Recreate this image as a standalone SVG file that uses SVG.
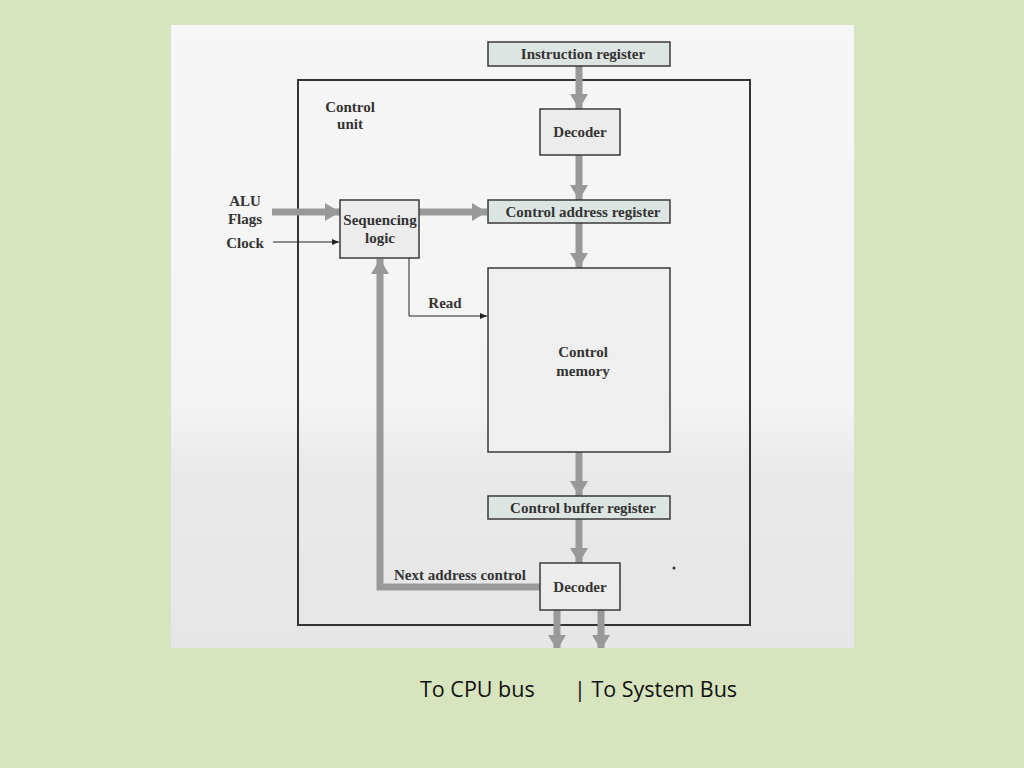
<svg xmlns="http://www.w3.org/2000/svg" width="1024" height="768" viewBox="0 0 1024 768">
<defs>
<linearGradient id="bg" x1="0" y1="0" x2="0" y2="1">
<stop offset="0" stop-color="#f6f6f6"/>
<stop offset="0.6" stop-color="#f4f4f4"/>
<stop offset="0.72" stop-color="#e9e9e9"/>
<stop offset="1" stop-color="#e6e6e6"/>
</linearGradient>
<marker id="thick" markerUnits="userSpaceOnUse" markerWidth="18" markerHeight="18" refX="15" refY="9" orient="auto" viewBox="0 0 18 18">
<path d="M0,0 L15,9 L0,18 z" fill="#999"/>
</marker>
<marker id="thin" markerUnits="userSpaceOnUse" markerWidth="8" markerHeight="8" refX="7" refY="4" orient="auto" viewBox="0 0 8 8">
<path d="M0,1 L7,4 L0,7 z" fill="#222"/>
</marker>
</defs>
<style>
.box{stroke:#3a3a3a;stroke-width:1.5}
.reg{fill:#dde5e2}
.blk{fill:#ececec}
.lbl{font-family:"Liberation Serif",serif;font-weight:bold;font-size:15px;fill:#333}
.big{stroke:#999;stroke-width:7;fill:none}
.fine{stroke:#222;stroke-width:1;fill:none}
.cap{font-family:"Open Sans","Liberation Sans",sans-serif;font-size:21.5px;fill:#111}
</style>
<rect width="1024" height="768" fill="#d7e4bd"/>
<rect x="171" y="25" width="683" height="623" fill="url(#bg)"/>
<g id="control-unit">
<rect x="298" y="80" width="452" height="545" fill="none" stroke="#333" stroke-width="2"/>
<text class="lbl" x="350" y="112" text-anchor="middle">Control</text>
<text class="lbl" x="350" y="129" text-anchor="middle">unit</text>
</g>
<g id="connectors">
<line class="big" x1="579" y1="66" x2="579" y2="109" marker-end="url(#thick)"/>
<line class="big" x1="579" y1="155" x2="579" y2="200" marker-end="url(#thick)"/>
<line class="big" x1="272" y1="212" x2="340" y2="212" marker-end="url(#thick)"/>
<line class="big" x1="419" y1="212" x2="487" y2="212" marker-end="url(#thick)"/>
<line class="fine" x1="273" y1="242" x2="339" y2="242" marker-end="url(#thin)"/>
<line class="big" x1="579" y1="223" x2="579" y2="268" marker-end="url(#thick)"/>
<polyline class="fine" points="409,258 409,316 487,316" marker-end="url(#thin)"/>
<line class="big" x1="579" y1="452" x2="579" y2="496" marker-end="url(#thick)"/>
<line class="big" x1="579" y1="519" x2="579" y2="563" marker-end="url(#thick)"/>
<polyline class="big" points="540,587 380,587 380,259" marker-end="url(#thick)"/>
<line class="big" x1="557" y1="610" x2="557" y2="650" marker-end="url(#thick)"/>
<line class="big" x1="601" y1="610" x2="601" y2="650" marker-end="url(#thick)"/>
</g>
<rect x="171" y="648" width="683" height="10" fill="#d7e4bd"/>
<g id="instruction-register">
<rect class="box reg" x="488" y="42" width="182" height="24"/>
<text class="lbl" x="583" y="59" text-anchor="middle">Instruction register</text>
</g>
<g id="decoder-top">
<rect class="box blk" x="540" y="109" width="80" height="46"/>
<text class="lbl" x="580" y="137" text-anchor="middle">Decoder</text>
</g>
<g id="control-address-register">
<rect class="box reg" x="488" y="200" width="182" height="23"/>
<text class="lbl" x="583" y="217" text-anchor="middle">Control address register</text>
</g>
<g id="inputs">
<text class="lbl" x="245" y="206" text-anchor="middle">ALU</text>
<text class="lbl" x="245" y="224" text-anchor="middle">Flags</text>
<text class="lbl" x="245" y="248" text-anchor="middle">Clock</text>
</g>
<g id="sequencing-logic">
<rect class="box blk" x="340" y="200" width="79" height="58"/>
<text class="lbl" x="380" y="225" text-anchor="middle">Sequencing</text>
<text class="lbl" x="380" y="243" text-anchor="middle">logic</text>
</g>
<text class="lbl" x="445" y="308" text-anchor="middle">Read</text>
<g id="control-memory">
<rect class="box" fill="#efefef" x="488" y="268" width="182" height="184"/>
<text class="lbl" x="583" y="357" text-anchor="middle">Control</text>
<text class="lbl" x="583" y="376" text-anchor="middle">memory</text>
</g>
<g id="control-buffer-register">
<rect class="box reg" x="488" y="496" width="182" height="23"/>
<text class="lbl" x="583" y="513" text-anchor="middle">Control buffer register</text>
</g>
<g id="decoder-bottom">
<rect class="box blk" x="540" y="563" width="80" height="47"/>
<text class="lbl" x="580" y="592" text-anchor="middle">Decoder</text>
</g>
<text class="lbl" x="460" y="580" text-anchor="middle">Next address control</text>
<circle cx="674" cy="568" r="1.5" fill="#333"/>
<text class="cap" x="420" y="697">To CPU bus</text>
<text class="cap" x="574" y="697">| To System Bus</text>
</svg>
